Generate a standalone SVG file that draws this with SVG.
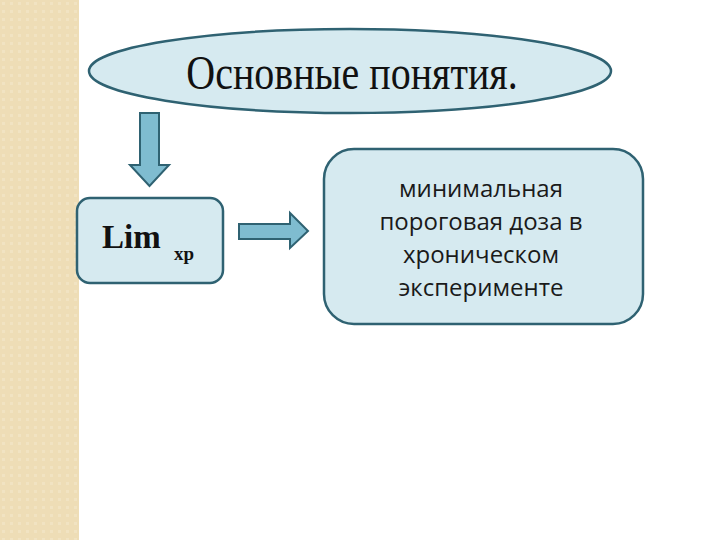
<svg xmlns="http://www.w3.org/2000/svg" width="720" height="540" viewBox="0 0 720 540">
<defs>
<pattern id="dots" width="8" height="8" patternUnits="userSpaceOnUse">
<rect width="8" height="8" fill="#EEDDB6"/>
<rect x="2" y="2" width="3" height="3" fill="#F1E3C2"/>
</pattern>
</defs>
<style>
.shape{fill:#D6EAF0;stroke:#2F6272;stroke-width:2.5}
.arrow{fill:#7FBCD0;stroke:#2F6272;stroke-width:2}
.body{font-family:"Open Sans","Noto Sans",sans-serif;font-size:24px;fill:#1a1a1a;text-anchor:middle}
</style>
<rect width="720" height="540" fill="#ffffff"/>
<rect x="0" y="0" width="79" height="540" fill="url(#dots)"/>
<g id="title">
<ellipse class="shape" cx="350" cy="71" rx="261" ry="42"/>
<text transform="translate(352,89) scale(1,1.22)" x="0" y="0" font-family="Liberation Serif,serif" font-size="40" fill="#111" text-anchor="middle">Основные понятия.</text>
</g>
<g id="lim">
<rect class="shape" x="77" y="198" width="146" height="85" rx="13"/>
<text x="102" y="248" font-family="Liberation Serif,serif" font-weight="bold" font-size="33" fill="#111">Lim</text>
<text x="174" y="260" font-family="Liberation Serif,serif" font-weight="bold" font-size="19" fill="#111">xp</text>
</g>
<g id="definition">
<rect class="shape" x="324" y="149" width="319" height="175" rx="30"/>
<text class="body" x="481" y="197">минимальная</text>
<text class="body" x="481" y="230">пороговая доза в</text>
<text class="body" x="481" y="263">хроническом</text>
<text class="body" x="481" y="296">эксперименте</text>
</g>
<g id="connectors">
<polygon class="arrow" points="140,113 159,113 159,165 169,165 149.5,186 130,165 140,165"/>
<polygon class="arrow" points="239,224 290,224 290,213 308,231 290,248 290,239 239,239"/>
</g>
</svg>
